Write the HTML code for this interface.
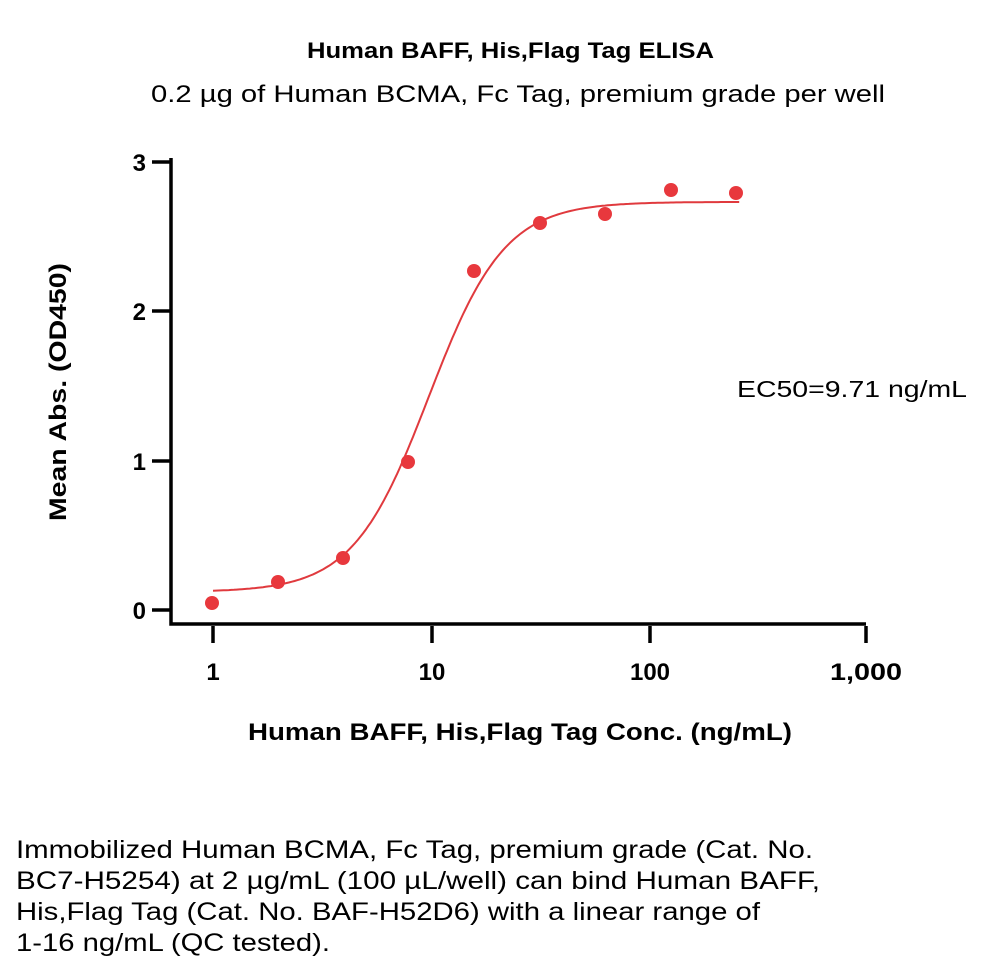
<!DOCTYPE html>
<html><head><meta charset="utf-8"><style>
body{margin:0;background:#fff;width:1000px;height:974px;overflow:hidden;font-family:"Liberation Sans",sans-serif;}
</style></head><body>
<svg id="s" width="1000" height="974" xmlns="http://www.w3.org/2000/svg" font-family="Liberation Sans, sans-serif">
<text x="307" y="58" font-size="22" font-weight="bold" textLength="407" lengthAdjust="spacingAndGlyphs">Human BAFF, His,Flag Tag ELISA</text>
<text x="151" y="102" font-size="24" textLength="734" lengthAdjust="spacingAndGlyphs">0.2 µg of Human BCMA, Fc Tag, premium grade per well</text>
<g stroke="#000" stroke-width="3.5" fill="none">
<path d="M171 158 V624 H866"/>
<path d="M152 162 H171 M152 311 H171 M152 461 H171 M152 610 H171"/>
<path d="M213 626 V643 M432 626 V643 M650 626 V643 M866 626 V643"/>
</g>
<g font-size="24" font-weight="bold" text-anchor="end">
<text x="146" y="171">3</text><text x="146" y="320">2</text><text x="146" y="470">1</text><text x="146" y="619">0</text>
</g>
<g font-size="24" font-weight="bold" text-anchor="middle">
<text x="213" y="680">1</text><text x="432" y="680">10</text><text x="650" y="680">100</text><text x="866" y="680" textLength="72" lengthAdjust="spacingAndGlyphs">1,000</text>
</g>
<text x="248" y="740" font-size="24" font-weight="bold" textLength="544" lengthAdjust="spacingAndGlyphs">Human BAFF, His,Flag Tag Conc. (ng/mL)</text>
<text transform="translate(66,392) rotate(-90)" text-anchor="middle" font-size="24" font-weight="bold" textLength="258" lengthAdjust="spacingAndGlyphs">Mean Abs. (OD450)</text>
<text x="737" y="397" font-size="23" textLength="230" lengthAdjust="spacingAndGlyphs">EC50=9.71 ng/mL</text>
<path id="c" fill="none" stroke="#e03a3e" stroke-width="2"/>
<g fill="#e8383d">
<circle cx="212" cy="603" r="7"/><circle cx="278" cy="582" r="7"/><circle cx="343" cy="558" r="7"/>
<circle cx="408" cy="462" r="7"/><circle cx="474" cy="271" r="7"/><circle cx="540" cy="223" r="7"/>
<circle cx="605" cy="214" r="7"/><circle cx="671" cy="190" r="7"/><circle cx="736" cy="193" r="7"/>
</g>
<g font-size="25">
<text x="16" y="858" textLength="797" lengthAdjust="spacingAndGlyphs">Immobilized Human BCMA, Fc Tag, premium grade (Cat. No.</text>
<text x="16" y="889" textLength="804" lengthAdjust="spacingAndGlyphs">BC7-H5254) at 2 µg/mL (100 µL/well) can bind Human BAFF,</text>
<text x="16" y="920" textLength="744" lengthAdjust="spacingAndGlyphs">His,Flag Tag (Cat. No. BAF-H52D6) with a linear range of</text>
<text x="16" y="951" textLength="314" lengthAdjust="spacingAndGlyphs">1-16 ng/mL (QC tested).</text>
</g>
</svg>
<script>
var d="";for(var i=0;i<=200;i++){var lx=Math.log10(256)*i/200;var c=Math.pow(10,lx);var r=Math.pow(c/9.71,2.5);var y=0.12+2.61*r/(1+r);var px=213+lx*218.5,py=610-y*149.5;d+=(i?"L":"M")+px.toFixed(1)+" "+py.toFixed(1);}
document.getElementById("c").setAttribute("d",d);
</script>
</body></html>
